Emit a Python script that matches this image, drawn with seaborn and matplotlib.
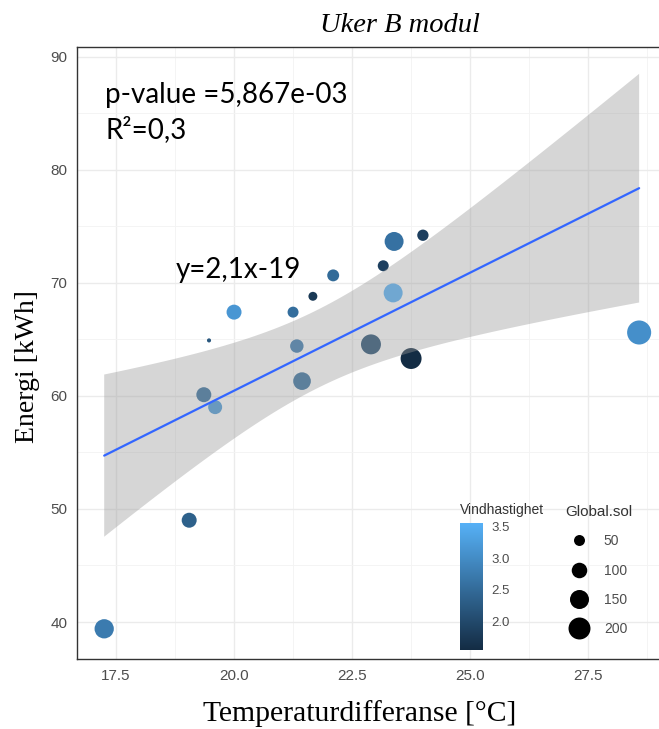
import numpy as np
import pandas as pd
import matplotlib
matplotlib.use("Agg")
import matplotlib.pyplot as plt
import matplotlib.ticker as mticker
from matplotlib.colors import LinearSegmentedColormap, Normalize
from matplotlib.lines import Line2D
import seaborn as sns

# ---- data ----
temp_diff = [17.25, 19.05, 19.36, 19.60, 19.47, 20.00, 21.25, 21.67, 21.33,
             21.44, 22.10, 23.16, 23.39, 24.00, 23.37, 22.90, 23.75, 28.58]
energi = [39.4, 49.0, 60.1, 59.0, 64.9, 67.4, 67.4, 68.8, 64.4,
          61.3, 70.65, 71.5, 73.65, 74.2, 69.1, 64.55, 63.3, 65.6]
vind = [2.75, 2.35, 2.55, 3.2, 2.2, 3.15, 2.55, 1.75, 2.75,
        2.55, 2.5, 1.85, 2.6, 1.85, 3.56, 2.05, 1.55, 3.05]
global_sol = [154, 93, 93, 81, 7, 93, 50, 33, 75,
              129, 59, 50, 149, 53, 149, 165, 182, 245]

size_breaks = [50, 100, 150, 200]
vind_ticks = [2.0, 2.5, 3.0, 3.5]
x_ticks = [17.5, 20.0, 22.5, 25.0, 27.5]
y_ticks = [40, 50, 60, 70, 80, 90]

df = pd.DataFrame({"Temperaturdifferanse": temp_diff, "Energi": energi,
                   "Vindhastighet": vind, "Global.sol": global_sol})

sns.set_theme(style="white")
plt.rcParams["font.family"] = ["Liberation Sans", "DejaVu Sans"]

W, H = 659, 729
fig = plt.figure(figsize=(W / 100, H / 100), dpi=100)
ax = fig.add_axes([77 / W, (H - 659) / H, 590 / W, (659 - 46.7) / H])

cmap = LinearSegmentedColormap.from_list("gg", ["#132B43", "#56B1F7"])
norm = Normalize(1.54, 3.56)

size_norm = (0, 240)
sizes = (0, 300)

sns.scatterplot(data=df, x="Temperaturdifferanse", y="Energi",
                hue="Vindhastighet", size="Global.sol", palette=cmap,
                hue_norm=norm, sizes=sizes, size_norm=size_norm,
                linewidth=0, legend=False, ax=ax)

# 95% confidence band of the linear fit (as geom_smooth(method="lm"))
xv = np.asarray(temp_diff, float)
yv = np.asarray(energi, float)
n = len(xv)
slope, intercept = np.polyfit(xv, yv, 1)
resid = yv - (slope * xv + intercept)
s_err = np.sqrt(np.sum(resid ** 2) / (n - 2))
sxx = np.sum((xv - xv.mean()) ** 2)
grid = np.linspace(xv.min(), xv.max(), 100)
fit = slope * grid + intercept
t975 = 2.1199  # Student t quantile, df = 16
half = t975 * s_err * np.sqrt(1 / n + (grid - xv.mean()) ** 2 / sxx)
ax.fill_between(grid, fit - half, fit + half, facecolor=(0.6, 0.6, 0.6, 0.4),
                edgecolor="none", zorder=1)

sns.regplot(data=df, x="Temperaturdifferanse", y="Energi", scatter=False,
            ci=None, color="#3366FF", line_kws=dict(lw=1.6, zorder=3),
            ax=ax, truncate=True)

ax.set_xticks(x_ticks)
ax.set_yticks(y_ticks)
ax.set_xlim(16.674, 29.17)
ax.set_ylim(36.73, 90.87)
ax.xaxis.set_major_formatter(mticker.FormatStrFormatter("%.1f"))
ax.xaxis.set_minor_locator(mticker.MultipleLocator(1.25))
ax.yaxis.set_minor_locator(mticker.MultipleLocator(5))
ax.grid(which="major", color="#EBEBEB", lw=1.0)
ax.grid(which="minor", color="#F3F3F3", lw=0.6)
ax.set_axisbelow(True)
for s in ax.spines.values():
    s.set_color("#333333")
    s.set_linewidth(1.0)
ax.tick_params(which="major", length=4, color="#333333", width=0.8,
               labelsize=11, labelcolor="#4D4D4D", pad=3)
ax.tick_params(which="minor", length=0)
ax.set_xlabel("")
ax.set_ylabel("")

serif = ["Liberation Serif", "DejaVu Serif"]
fig.text(360 / W, 1 - 714 / H, "Temperaturdifferanse [°C]", ha="center",
         va="center", family=serif, fontsize=21.3, color="black")
fig.text(27 / W, 1 - 367 / H, "Energi [kWh]", ha="center", va="center",
         rotation=90, family=serif, fontsize=20, color="black")
fig.text(400 / W, 1 - 25 / H, "Uker B modul", ha="center", va="center",
         family=serif, style="italic", fontsize=20.5, color="black")

ann = ["Lato", "DejaVu Sans"]
fig.text(105 / W, 1 - 95 / H, "p-value =5,867e-03", ha="left", va="center",
         family=ann, fontsize=20, color="black")
fig.text(105 / W, 1 - 130 / H, "R²=0,3", ha="left", va="center",
         family=ann, fontsize=20, color="black")
fig.text(176 / W, 1 - 270 / H, "y=2,1x-19", ha="left", va="center",
         family=ann, fontsize=20, color="black")

# colour legend
cax = fig.add_axes([460 / W, 1 - 650 / H, 23 / W, 127 / H])
sm = matplotlib.cm.ScalarMappable(norm=norm, cmap=cmap)
cb = fig.colorbar(sm, cax=cax, ticks=vind_ticks)
cb.outline.set_visible(False)
cax.yaxis.set_ticks_position("both")
cax.tick_params(direction="in", length=4, color="white", width=1,
                labelsize=9.5, labelcolor="#4D4D4D", pad=6,
                labelleft=False, labelright=True)
cax.yaxis.set_major_formatter(mticker.FormatStrFormatter("%.1f"))
fig.text(460 / W, 1 - 510 / H, "Vindhastighet", ha="left", va="center",
         fontsize=10, color="#333333")

# size legend
handles = [Line2D([], [], ls="", marker="o", color="black", markeredgewidth=0,
                  markersize=np.sqrt(sizes[1] / size_norm[1] * v))
           for v in size_breaks]
leg = ax.legend(handles, [str(v) for v in size_breaks], title="Global.sol",
                loc="upper left", bbox_to_anchor=(565 / W, 1 - 505 / H),
                bbox_transform=fig.transFigure, frameon=False, fontsize=10,
                title_fontsize=11, labelspacing=1.1, handletextpad=0.8,
                borderpad=0, borderaxespad=0, handlelength=2.0)
leg._legend_box.align = "left"
leg.get_title().set_color("#333333")
for t in leg.get_texts():
    t.set_color("#4D4D4D")

fig.savefig("out.png", dpi=100)
